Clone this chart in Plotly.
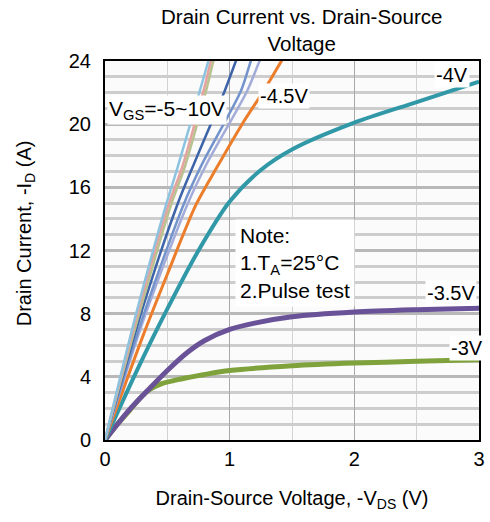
import plotly.graph_objects as go

# Drain-source voltage (V) and drain current (A) for each gate voltage curve
vgs_labels = ["-10V", "-8V", "-7V", "-6V", "-5.5V", "-5V", "-4.5V", "-4V", "-3.5V", "-3V"]

vds_10 = [0, 0.25, 0.49, 0.58, 0.76, 0.83, 0.88]
id_10 = [0, 8.0, 14.9, 17.2, 22.1, 24.0, 25.2]

vds_8 = [0, 0.25, 0.51, 0.62, 0.79, 0.85, 0.90]
id_8 = [0, 7.7, 14.9, 17.3, 22.1, 24.0, 25.2]

vds_7 = [0, 0.26, 0.53, 0.64, 0.81, 0.87, 0.92]
id_7 = [0, 7.6, 14.9, 17.3, 22.1, 24.0, 25.2]

vds_6 = [0, 0.3, 0.58, 0.72, 0.96, 1.05, 1.10]
id_6 = [0, 8.3, 14.9, 17.6, 22.1, 24.0, 25.0]

vds_55 = [0, 0.3, 0.63, 0.78, 1.09, 1.17, 1.22]
id_55 = [0, 7.7, 14.9, 17.5, 22.1, 24.0, 25.0]

vds_5 = [0, 0.3, 0.66, 0.81, 1.14, 1.24, 1.30]
id_5 = [0, 7.4, 14.9, 17.4, 22.1, 24.0, 25.0]

vds_45 = [0, 0.3, 0.5, 0.73, 0.9, 1.1, 1.28, 1.4, 1.46]
id_45 = [0, 6.5, 10.5, 14.9, 17.3, 20.0, 22.2, 23.8, 24.6]

vds_4 = [0, 0.25, 0.5, 0.75, 1.0, 1.25, 1.5, 2.0, 2.5, 3.0]
id_4 = [0, 4.3, 8.3, 12.0, 15.1, 17.1, 18.4, 20.1, 21.4, 22.7]

vds_35 = [0, 0.1, 0.2, 0.35, 0.5, 0.67, 0.8, 1.0, 1.2, 1.5, 2.0, 2.5, 3.0]
id_35 = [0, 1.0, 1.95, 3.2, 4.4, 5.6, 6.3, 7.0, 7.4, 7.8, 8.1, 8.25, 8.35]

vds_3 = [0, 0.1, 0.2, 0.3, 0.36, 0.45, 0.6, 0.8, 1.0, 1.5, 2.0, 2.5, 3.0]
id_3 = [0, 1.0, 1.9, 2.8, 3.2, 3.55, 3.85, 4.15, 4.4, 4.7, 4.87, 4.98, 5.08]

series = [
    (vds_3, id_3, "#7fa23c", 5),
    (vds_35, id_35, "#6a5298", 5),
    (vds_4, id_4, "#3198a8", 4),
    (vds_45, id_45, "#ec7d2a", 3),
    (vds_5, id_5, "#a3acd9", 2.5),
    (vds_55, id_55, "#7393cc", 2.5),
    (vds_6, id_6, "#3d63a8", 2.5),
    (vds_7, id_7, "#b7c28e", 2.5),
    (vds_8, id_8, "#e3a39e", 2.5),
    (vds_10, id_10, "#8ec3e0", 2.5),
]

fig = go.Figure()
for x, y, c, w in series:
    fig.add_trace(go.Scatter(x=x, y=y, mode="lines", line=dict(color=c, width=w, shape="spline", smoothing=0.8),
                             showlegend=False, hoverinfo="skip"))

font_family = "Liberation Sans, Arial, sans-serif"

fig.update_layout(
    width=490, height=522,
    margin=dict(l=105, r=5, t=61, b=82),
    paper_bgcolor="white",
    plot_bgcolor="#fbfbfb",
    font=dict(family=font_family, color="black", size=20),
    xaxis=dict(range=[0, 3], dtick=1, tick0=0, showgrid=True, gridcolor="#a8a8a8", gridwidth=1,
               minor=dict(dtick=0.5, showgrid=True, gridcolor="#d2d2d2", gridwidth=1),
               zeroline=False, showline=True, linecolor="black", linewidth=2, mirror=True,
               ticks="", tickfont=dict(size=20),
               title=dict(text="Drain-Source Voltage, -V<sub>DS</sub> (V)", font=dict(size=20), standoff=22)),
    yaxis=dict(range=[0, 24], dtick=4, tick0=0, showgrid=True, gridcolor="#b8b8b8", gridwidth=3,
               minor=dict(dtick=1, showgrid=True, gridcolor="#cdcdcd", gridwidth=2.5),
               zeroline=False, showline=True, linecolor="black", linewidth=2, mirror=True,
               ticks="", tickfont=dict(size=20), ticklabelstandoff=8),
)

# y-axis title as a rotated paper annotation
fig.add_annotation(xref="paper", yref="paper", x=(25 - 105) / 380, y=(440 - 233) / 379,
                   xanchor="center", yanchor="middle", textangle=-90, showarrow=False,
                   font=dict(size=20, family=font_family, color="black"),
                   text="Drain Current, -I<sub>D</sub> (A)")

# chart title as a paper annotation (two lines)
fig.add_annotation(xref="paper", yref="paper", x=0.525, y=(440 - 3) / 379, xanchor="center", yanchor="top",
                   showarrow=False, font=dict(size=20.5, family=font_family, color="black"),
                   text="Drain Current vs. Drain-Source<br>Voltage")

anns = [
    dict(x=0.02, y=20.9, text="V<sub>GS</sub>=-5~10V", size=21),
    dict(x=1.23, y=21.8, text="-4.5V", size=20),
    dict(x=2.64, y=23.1, text="-4V", size=20),
    dict(x=2.57, y=9.3, text="-3.5V", size=20),
    dict(x=2.76, y=5.8, text="-3V", size=20),
]
for a in anns:
    fig.add_annotation(xref="x", yref="y", showarrow=False, xanchor="left", yanchor="middle",
                       font=dict(size=a["size"], family=font_family, color="black"),
                       bgcolor="white", borderpad=1, x=a["x"], y=a["y"], text=a["text"])

fig.add_annotation(xref="x", yref="y", x=1.04, y=14.0, xanchor="left", yanchor="top", showarrow=False,
                   align="left", bgcolor="white", borderpad=4, font=dict(size=21, family=font_family, color="black"),
                   text="Note:<br>1.T<sub>A</sub>=25°C<br>2.Pulse test")

fig.write_html("out.html")
